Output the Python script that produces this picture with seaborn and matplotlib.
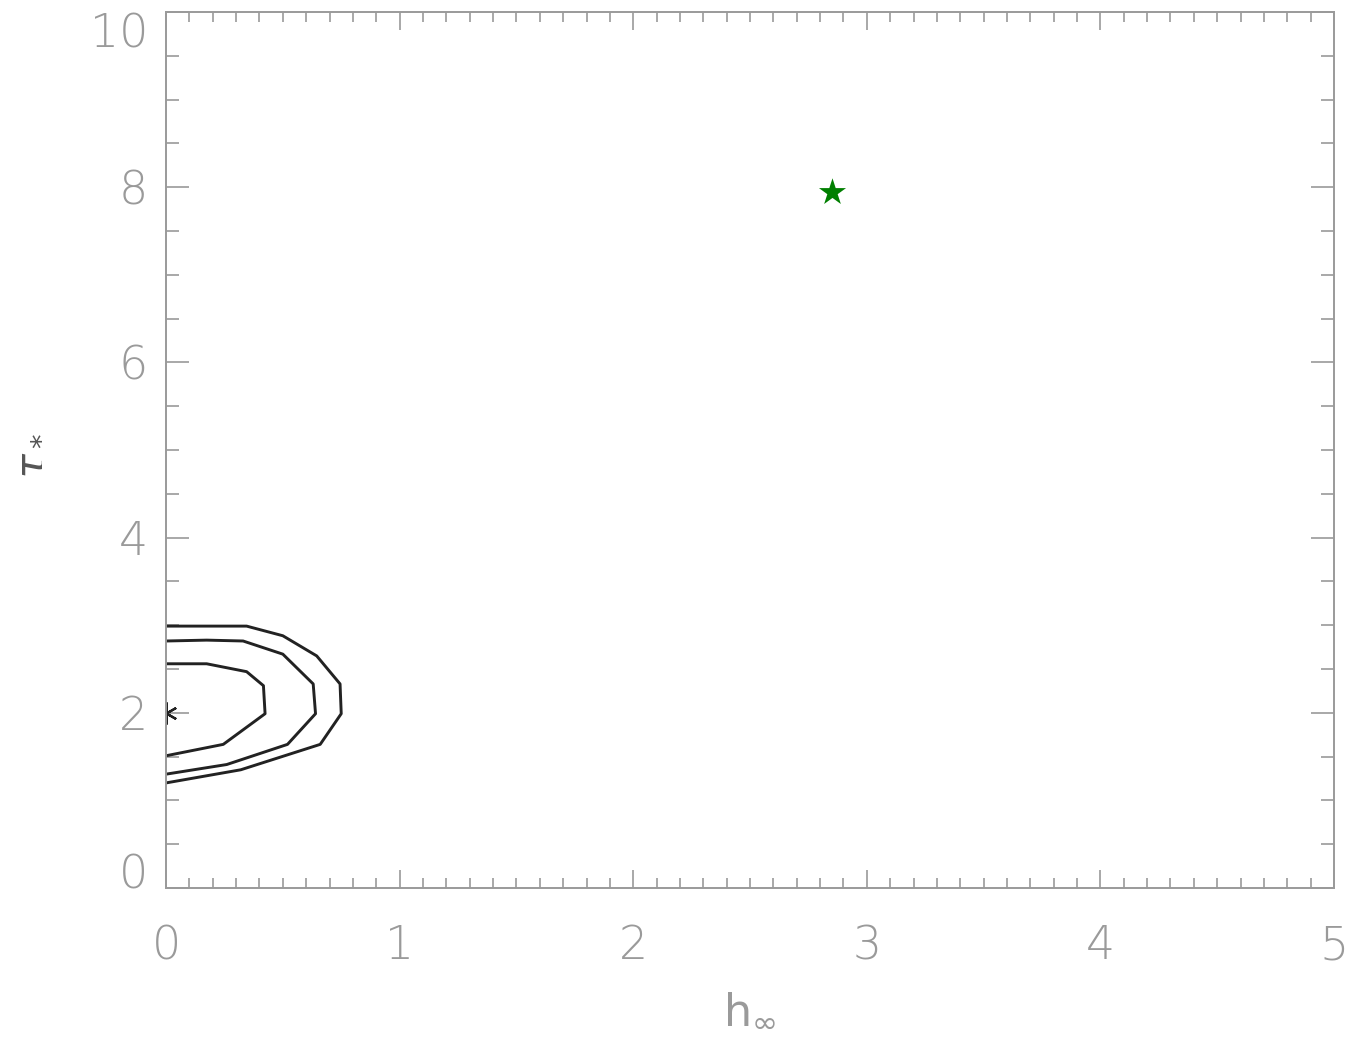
import matplotlib
matplotlib.use('Agg')
import matplotlib.pyplot as plt
import seaborn as sns
from matplotlib.ticker import MultipleLocator

# contour levels (h_inf, tau_*)
outer_x = [0.0, 0.345, 0.50, 0.645, 0.745, 0.75, 0.66, 0.32, 0.0]
outer_y = [2.99, 2.99, 2.88, 2.65, 2.33, 1.99, 1.64, 1.35, 1.20]
middle_x = [0.0, 0.174, 0.33, 0.50, 0.63, 0.64, 0.52, 0.26, 0.0]
middle_y = [2.82, 2.83, 2.82, 2.67, 2.33, 1.99, 1.64, 1.41, 1.30]
inner_x = [0.0, 0.174, 0.345, 0.417, 0.424, 0.245, 0.0]
inner_y = [2.56, 2.56, 2.47, 2.31, 1.99, 1.64, 1.51]

best_x, best_y = [0.0], [2.0]      # best fit, small asterisk
true_x, true_y = [2.85], [7.95]    # green star

xticks = [0, 1, 2, 3, 4, 5]
yticks = [0, 2, 4, 6, 8, 10]

sns.set_style('ticks')
plt.rcParams['font.family'] = ['DejaVu Sans']
plt.rcParams['mathtext.fontset'] = 'dejavusans'

grey = '#9a9a9a'
fig = plt.figure(figsize=(13.52, 10.45), dpi=100)
ax = fig.add_axes([0.1228, 0.1502, 0.8639, 0.8383])

for cx, cy in [(outer_x, outer_y), (middle_x, middle_y), (inner_x, inner_y)]:
    sns.lineplot(x=cx, y=cy, sort=False, estimator=None, color='#222222',
                 linewidth=2.1, ax=ax)

ax.plot(best_x, best_y, linestyle='none', marker=(6, 2, 0), markersize=16,
        color='#222222', markeredgewidth=1.6)
sns.scatterplot(x=true_x, y=true_y, marker='*', s=420, color='#007f00',
                linewidth=0, ax=ax)

ax.set_xlim(0, 5)
ax.set_ylim(0, 10)
ax.set_xticks(xticks)
ax.set_yticks(yticks)
ax.xaxis.set_minor_locator(MultipleLocator(0.1))
ax.yaxis.set_minor_locator(MultipleLocator(0.5))

for sp in ax.spines.values():
    sp.set_color(grey)
    sp.set_linewidth(1.4)

ax.tick_params(axis='both', which='both', direction='in', top=True, right=True,
               color=grey, width=1.2, labelcolor=grey, labelsize=33)
ax.tick_params(axis='x', which='major', length=13, pad=26)
ax.tick_params(axis='x', which='minor', length=7)
ax.tick_params(axis='y', which='major', length=16.5, pad=13)
ax.tick_params(axis='y', which='minor', length=9.5)

# IDL style: end labels pulled inside the axis range
ylabs = ax.get_yticklabels()
ylabs[0].set_va('baseline')
ylabs[-1].set_va('top')
for lab in ax.get_xticklabels() + ylabs:
    lab.set_fontweight('light')

ax.set_xlabel(r'$\mathregular{h}_{\infty}$', fontsize=32, color=grey)
ax.set_ylabel(r'$\tau_*$', fontsize=30, color='#555555')
ax.xaxis.set_label_coords(0.5, -0.115)
ax.yaxis.set_label_coords(-0.10, 0.494)

fig.savefig('out.png', dpi=100, facecolor='white')
